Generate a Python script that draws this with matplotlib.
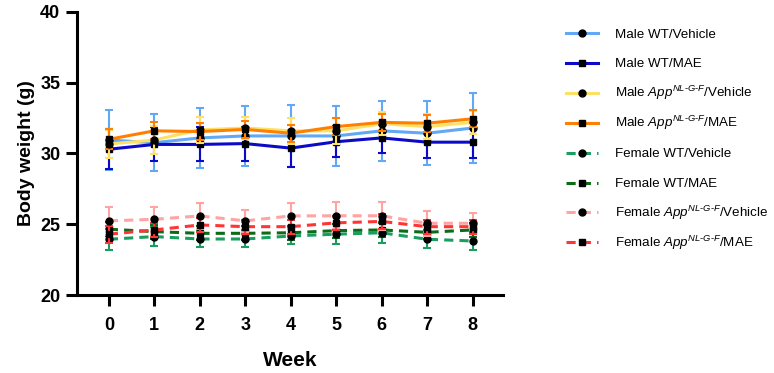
import matplotlib
matplotlib.use('Agg')
import matplotlib.pyplot as plt
from matplotlib.lines import Line2D

plt.rcParams['font.family'] = ['Liberation Sans', 'DejaVu Sans']
plt.rcParams['mathtext.fontset'] = 'custom'
plt.rcParams['mathtext.rm'] = 'Liberation Sans'
plt.rcParams['mathtext.it'] = 'Liberation Sans:italic'

weeks = [0, 1, 2, 3, 4, 5, 6, 7, 8]

labels = [
    'Male WT/Vehicle',
    'Male WT/MAE',
    r'Male $App^{NL\text{-}G\text{-}F}$/Vehicle',
    r'Male $App^{NL\text{-}G\text{-}F}$/MAE',
    'Female WT/Vehicle',
    'Female WT/MAE',
    r'Female $App^{NL\text{-}G\text{-}F}$/Vehicle',
    r'Female $App^{NL\text{-}G\text{-}F}$/MAE',
]

male_wt_veh = [30.95, 30.76, 31.1, 31.24, 31.24, 31.24, 31.6, 31.43, 31.8]
male_wt_veh_err = [2.1, 2.0, 2.1, 2.1, 2.2, 2.1, 2.1, 2.25, 2.45]
male_wt_mae = [30.3, 30.64, 30.64, 30.7, 30.38, 30.83, 31.1, 30.8, 30.8]
male_wt_mae_err = [1.4, 1.2, 1.2, 1.2, 1.3, 1.1, 1.1, 1.1, 1.1]
male_app_veh = [30.67, 30.95, 31.67, 31.8, 31.6, 31.6, 32.1, 31.9, 32.2]
male_app_veh_err = [1.0, 1.0, 0.9, 0.8, 0.9, 0.9, 0.8, 0.9, 0.8]
male_app_mae = [31.0, 31.6, 31.55, 31.7, 31.43, 31.9, 32.2, 32.14, 32.45]
male_app_mae_err = [0.7, 0.6, 0.6, 0.6, 0.6, 0.6, 0.6, 0.6, 0.6]

fem_wt_veh = [23.94, 24.13, 23.96, 23.96, 24.17, 24.3, 24.4, 23.94, 23.82]
fem_wt_veh_err = [0.75, 0.7, 0.6, 0.6, 0.55, 0.7, 0.75, 0.65, 0.65]
fem_wt_mae = [24.65, 24.48, 24.36, 24.36, 24.4, 24.55, 24.6, 24.43, 24.6]
fem_wt_mae_err = [0.5, 0.5, 0.5, 0.5, 0.5, 0.5, 0.5, 0.5, 0.5]
fem_app_veh = [25.24, 25.35, 25.59, 25.24, 25.59, 25.6, 25.6, 25.07, 25.07]
fem_app_veh_err = [1.0, 0.9, 0.9, 0.8, 0.9, 0.95, 1.0, 0.9, 0.75]
fem_app_mae = [24.3, 24.6, 24.95, 24.83, 24.83, 25.1, 25.2, 24.83, 24.83]
fem_app_mae_err = [0.6, 0.5, 0.5, 0.5, 0.5, 0.5, 0.5, 0.5, 0.5]

dash = (0, (3, 2))
series = [
    (male_wt_veh, male_wt_veh_err, '#62a8f5', 'o', '-'),
    (male_wt_mae, male_wt_mae_err, '#0a0ac8', 's', '-'),
    (male_app_veh, male_app_veh_err, '#ffe066', 'o', '-'),
    (male_app_mae, male_app_mae_err, '#ff8000', 's', '-'),
    (fem_wt_veh, fem_wt_veh_err, '#1a9e60', 'o', dash),
    (fem_wt_mae, fem_wt_mae_err, '#0b6b16', 's', dash),
    (fem_app_veh, fem_app_veh_err, '#ffa3a3', 'o', dash),
    (fem_app_mae, fem_app_mae_err, '#ff3535', 's', dash),
]

W, H = 774, 373
fig = plt.figure(figsize=(W / 100, H / 100), dpi=100)
ax = fig.add_axes([0.0995, 0.209, 0.551, 0.759])

# draw in an order so the light blue error bars sit on top like the original
order = [1, 3, 2, 0, 5, 4, 7, 6]
for i in order:
    y, e, c, m, ls = series[i]
    ax.errorbar(weeks, y, yerr=e, color=c, ecolor=c, elinewidth=1.5,
                capsize=3, capthick=1.5, linewidth=2.2, linestyle=ls,
                marker=m, markersize=5, markerfacecolor='black',
                markeredgecolor='black', zorder=2 + i * 0.1)

ax.set_xlim(-0.7, 8.68)
ax.set_ylim(20, 40)
ax.set_xticks(weeks)
ax.set_yticks([20, 25, 30, 35, 40])
for s in ['top', 'right']:
    ax.spines[s].set_visible(False)
for s in ['left', 'bottom']:
    ax.spines[s].set_linewidth(2.2)
ax.tick_params(width=2.2, length=8, labelsize=13, pad=4)
ax.tick_params(axis='x', pad=8)
for lab in ax.get_xticklabels() + ax.get_yticklabels():
    lab.set_fontweight('bold')
ax.set_xlabel('Week', fontsize=15, fontweight='bold', labelpad=12)
ax.set_ylabel('Body weight (g)', fontsize=14, fontweight='bold', labelpad=4)

# legend built by hand so every row sits at the same spacing
row0, step = 33, 29.9
for i, (y, e, c, m, ls) in enumerate(series):
    py = row0 + step * i
    fy = 1 - py / H
    handle = Line2D([566 / W, 582 / W, 598 / W], [fy, fy, fy],
                    transform=fig.transFigure, color=c, linewidth=2.2,
                    linestyle=ls, marker=m, markevery=[1], markersize=5,
                    markerfacecolor='black', markeredgecolor='black')
    fig.add_artist(handle)
    fig.text(615 / W, 1 - (py + 4.5) / H, labels[i], fontsize=9.6,
             va='baseline', ha='left')

fig.savefig('out.png', dpi=100)
